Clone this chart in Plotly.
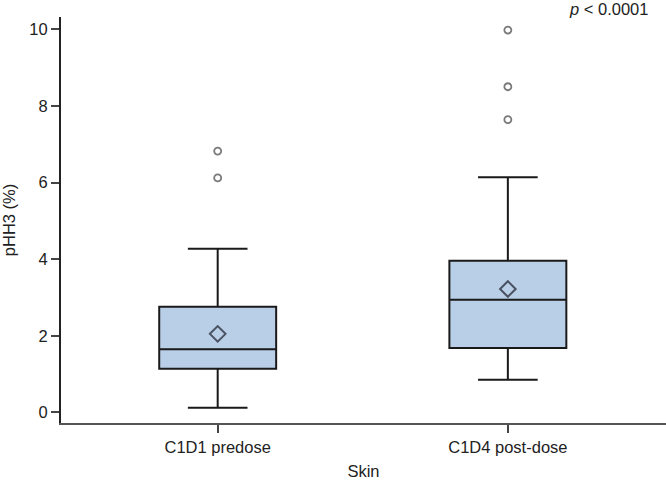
import plotly.graph_objects as go

categories = ["C1D1 predose", "C1D4 post-dose"]
q1 = [1.14, 1.68]
median = [1.65, 2.94]
q3 = [2.76, 3.96]
lowerfence = [0.12, 0.85]
upperfence = [4.27, 6.14]
means = [2.05, 3.22]
outliers = {
    "C1D1 predose": [6.12, 6.82],
    "C1D4 post-dose": [7.64, 8.50, 9.98],
}
y_ticks = [0, 2, 4, 6, 8, 10]

FONT = "Liberation Sans, Arial, sans-serif"

fig = go.Figure()
fig.add_trace(go.Box(
    x=categories, q1=q1, median=median, q3=q3,
    lowerfence=lowerfence, upperfence=upperfence,
    width=0.403, whiskerwidth=0.51,
    fillcolor="#b9cfe8", line=dict(color="#1a1a1a", width=2),
    boxpoints=False, showlegend=False, hoverinfo="skip",
))

ox, oy = [], []
for c in categories:
    for v in outliers[c]:
        ox.append(c)
        oy.append(v)
fig.add_trace(go.Scatter(
    x=ox, y=oy, mode="markers", showlegend=False,
    marker=dict(symbol="circle-open", size=7, color="#7a7a7a", line=dict(width=1.8)),
))
fig.add_trace(go.Scatter(
    x=categories, y=means, mode="markers", showlegend=False,
    marker=dict(symbol="diamond-open", size=12, color="#4a5262", line=dict(width=2)),
))

fig.update_layout(
    width=666, height=480,
    margin=dict(l=61, r=0, t=17, b=57),
    plot_bgcolor="white", paper_bgcolor="white",
    font=dict(family=FONT, size=16.5, color="#222"),
    xaxis=dict(
        type="category", range=[-0.54, 1.545],
        showline=True, linecolor="#555", linewidth=1.5,
        ticks="outside", ticklen=8, tickwidth=1.5, tickcolor="#444",
        showgrid=False, zeroline=False,
        tickfont=dict(size=16.5, color="#222"),
        title=dict(text="Skin", font=dict(size=16.5, color="#222"), standoff=12),
    ),
    yaxis=dict(
        range=[-0.277, 10.32],
        tickvals=y_ticks, ticktext=[str(t) for t in y_ticks],
        showline=True, linecolor="#222", linewidth=2,
        ticks="outside", ticklen=8, tickwidth=1.5, tickcolor="#444",
        showgrid=False, zeroline=False,
        tickfont=dict(size=16.5, color="#222"),
        title=dict(text="pHH3 (%)", font=dict(size=16.5, color="#222"), standoff=14),
    ),
    annotations=[dict(
        text="<i>p</i> &lt; 0.0001", xref="paper", yref="paper",
        x=0.9736, y=1.0195, xanchor="right", yanchor="middle",
        showarrow=False, font=dict(size=16.5, color="#222"),
    )],
)

fig.write_html(
    "out.html",
    config={"responsive": False, "displayModeBar": False},
    post_script="document.body.style.margin='0';document.body.style.padding='0';document.body.style.overflow='hidden';",
)
